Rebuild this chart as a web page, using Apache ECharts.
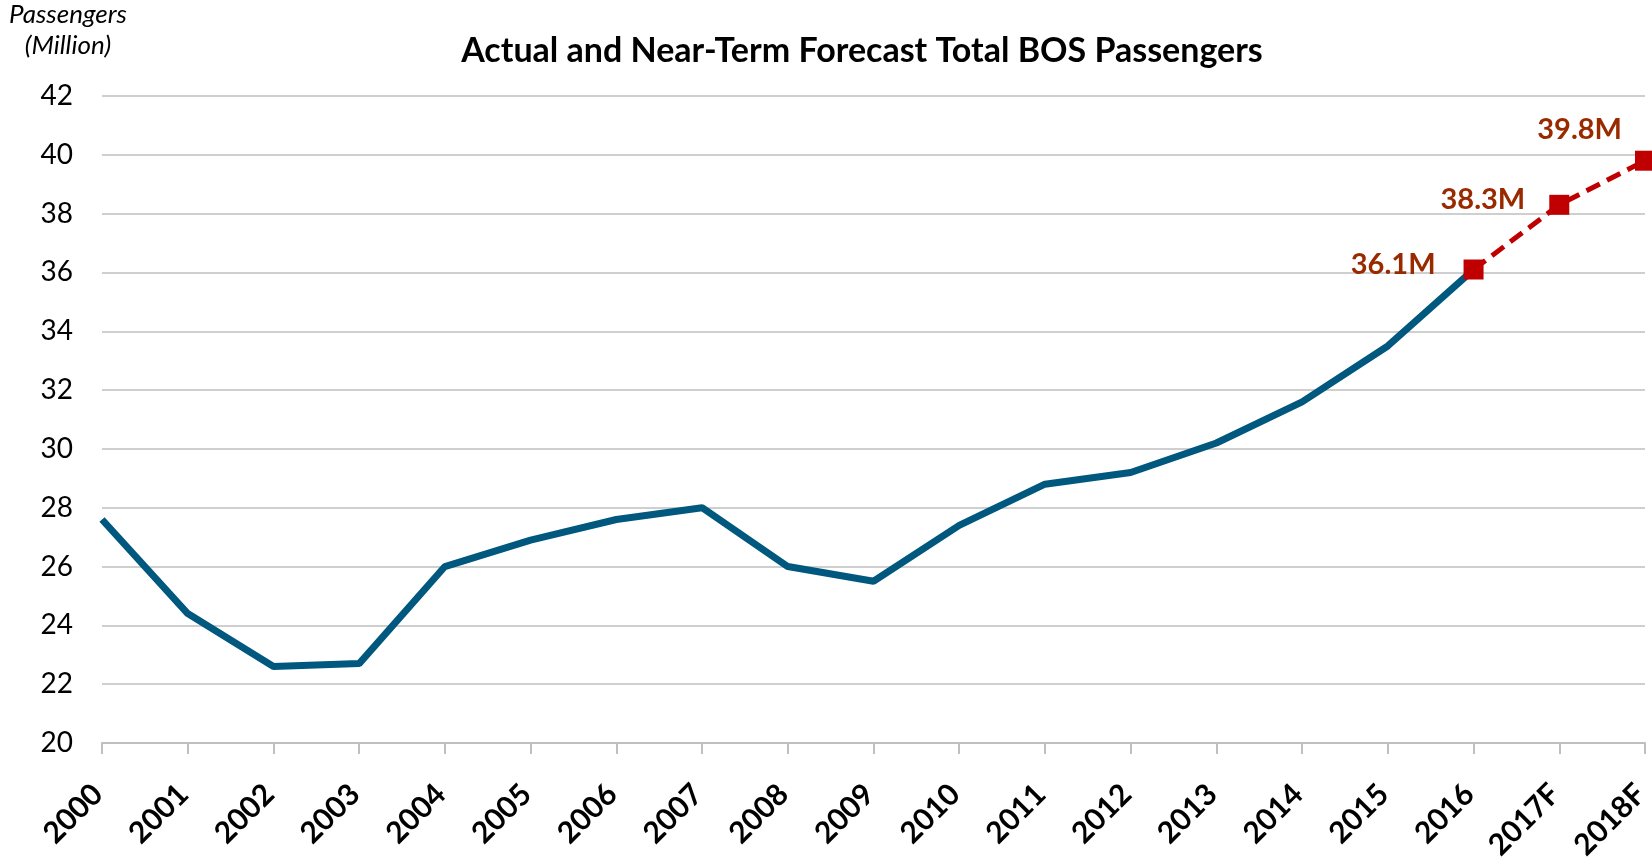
<!DOCTYPE html>
<html><head><meta charset="utf-8">
<script src="https://cdn.jsdelivr.net/npm/echarts@6/dist/echarts.min.js"></script>
<style>html,body{margin:0;padding:0;background:#fff}#c{width:1652px;height:859px}</style>
</head><body><div id="c"></div>
<script>
const categories = ['2000','2001','2002','2003','2004','2005','2006','2007','2008','2009','2010','2011','2012','2013','2014','2015','2016','2017F','2018F'];
const actual = [27.6,24.4,22.6,22.7,26.0,26.9,27.6,28.0,26.0,25.5,27.4,28.8,29.2,30.2,31.6,33.5,36.1,null,null];
const forecast = [null,null,null,null,null,null,null,null,null,null,null,null,null,null,null,null,36.1,38.3,39.8];
const forecastLabels = ['36.1M','38.3M','39.8M'];
const yTicks = [20,22,24,26,28,30,32,34,36,38,40,42];

const FONT = 'Lato, "Open Sans", sans-serif';
const chart = echarts.init(document.getElementById('c'));
let fi = 0;
const forecastData = forecast.map((v, i) => {
  if (v === null) return null;
  const lab = forecastLabels[fi++];
  const item = {value: v, label: {show: true, formatter: lab}};
  if (i === categories.length - 1) item.label.offset = [-8, -31];
  else if (i === categories.length - 2) item.label.offset = [-19, -5];
  else item.label.offset = [-23, -5];
  return item;
});
chart.setOption({
  animation: false,
  title: {
    text: 'Actual and Near-Term Forecast Total BOS Passengers',
    left: 857, top: 29, textAlign: 'center',
    textStyle: {fontFamily: FONT, fontWeight: 'bold', fontSize: 34, color: '#000'}
  },
  grid: {left: 102, right: 7, top: 96, bottom: 116, containLabel: false, outerBoundsMode: 'none'},
  xAxis: {
    type: 'category', data: categories, boundaryGap: false,
    axisLine: {lineStyle: {color: '#bfbfbf', width: 2}},
    axisTick: {show: true, alignWithLabel: true, length: 11, lineStyle: {color: '#bfbfbf', width: 2}},
    axisLabel: {rotate: 45, margin: 42, padding: [0, 6, 0, 0], fontFamily: FONT, fontWeight: 'bold', fontSize: 30, color: '#000', interval: 0},
    splitLine: {show: false}
  },
  yAxis: {
    type: 'value', min: yTicks[0], max: yTicks[yTicks.length - 1], interval: 2,
    name: 'Passengers\n(Million)', nameLocation: 'end', nameGap: 0,
    nameTextStyle: {fontFamily: FONT, fontStyle: 'italic', fontSize: 26, color: '#000', align: 'center', lineHeight: 31, padding: [0, 0, 21, -68]},
    axisLine: {show: false}, axisTick: {show: false},
    axisLabel: {margin: 29, fontFamily: FONT, fontSize: 28, color: '#000'},
    splitLine: {lineStyle: {color: '#bfbfbf', width: 1.5}}
  },
  series: [
    {
      type: 'line', data: actual, symbol: 'none', z: 2,
      lineStyle: {color: '#00587f', width: 7}
    },
    {
      type: 'line', data: forecastData, symbol: 'rect', symbolSize: 20, z: 3,
      itemStyle: {color: '#c00000'},
      lineStyle: {color: '#c00000', width: 5, type: [15, 8]},
      label: {show: true, position: 'left', fontFamily: FONT, fontWeight: 'bold', fontSize: 29, color: '#992a00'}
    }
  ]
});
</script></body></html>
